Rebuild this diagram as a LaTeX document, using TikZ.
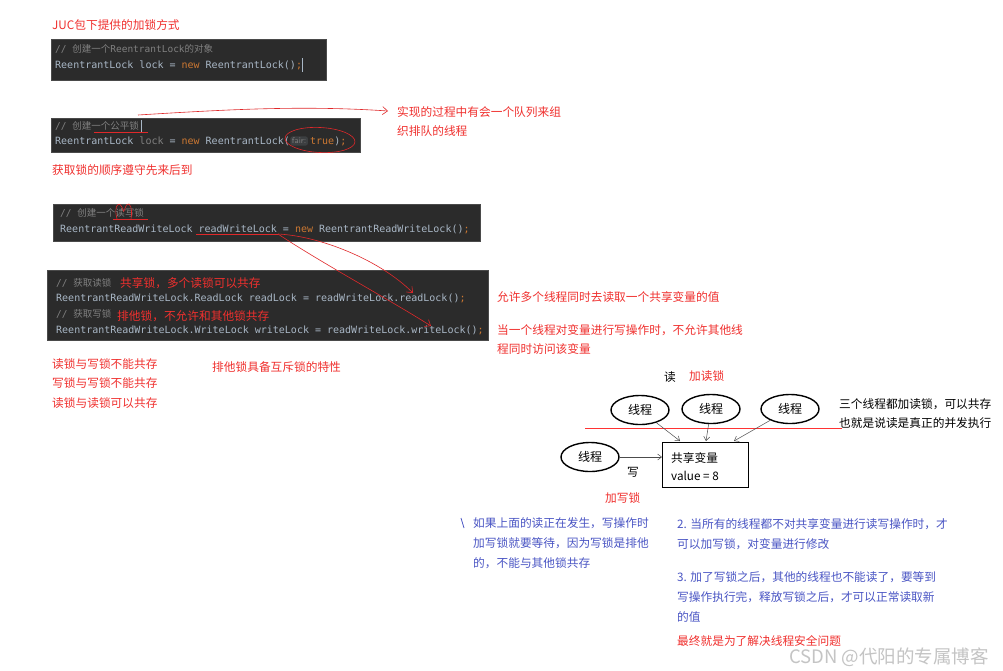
\documentclass[tikz,border=0pt]{standalone}
\usepackage{fontspec}
\setmainfont{Noto Sans CJK SC}
\setmonofont{DejaVu Sans Mono}
\newfontfamily\cjk{Noto Sans CJK SC}
\usetikzlibrary{arrows.meta,shapes.geometric}
\definecolor{codebg}{HTML}{2B2B2B}
\definecolor{codeedge}{HTML}{4A4A4A}
\definecolor{codefg}{HTML}{A9B7C6}
\definecolor{kw}{HTML}{CC7832}
\definecolor{cmt}{HTML}{808080}
\definecolor{hintbg}{HTML}{3C3F41}
\definecolor{noteRed}{HTML}{F0302E}
\definecolor{noteBlue}{HTML}{4A55C4}
\definecolor{penRed}{HTML}{E0282A}
\definecolor{wm}{HTML}{C4C4C4}
\newcommand{\kwd}[1]{\textcolor{kw}{#1}}
\newcommand{\cz}[1]{{\cjk #1}}
\tikzset{
  codebox/.style={draw=codeedge, fill=codebg, line width=0.8pt, anchor=north west, inner sep=0pt},
  codeline/.style={anchor=west, inner sep=0pt, font=\ttfamily\fontsize{10}{12}\selectfont, text=codefg},
  cmtline/.style={anchor=west, inner sep=0pt, font=\ttfamily\fontsize{9.5}{11}\selectfont, text=cmt},
  note/.style={anchor=west, inner sep=0pt, font=\fontsize{11.7}{14}\selectfont, text=noteRed},
  bnote/.style={note, text=noteBlue},
  knote/.style={note, text=black},
  pen/.style={draw=penRed, line width=0.6pt},
  penarrow/.style={pen, -{Straight Barb[length=5pt,width=8pt]}},
  thread/.style={ellipse, draw=black, line width=1.4pt, minimum width=58pt, minimum height=29pt, inner sep=0pt, font=\fontsize{12}{14}\selectfont},
  darrow/.style={draw=black!70, line width=0.5pt, -{Straight Barb[length=4pt,width=6pt]}},
}
\begin{document}
\begin{tikzpicture}[x=1pt,y=-1pt]
\useasboundingbox (0,0) rectangle (1003,670);
\fill[white] (0,0) rectangle (1003,670);

% title
\node[note] (title) at (52,25) {JUC包下提供的加锁方式};

% code block 1
\node[codebox, minimum width=275pt, minimum height=41pt] (cb1) at (51,39) {};
\node[cmtline] (c1a) at (55,49) {// \cz{创建一个}ReentrantLock\cz{的对象}};
\node[codeline] (c1b) at (55,65) {ReentrantLock lock = \kwd{new} ReentrantLock()\kwd{;}};
\coordinate (cur1a) at (302,58);
\coordinate (cur1b) at (302,72);
\draw[codefg, line width=1pt] (cur1a) -- (cur1b);

% code block 2
\node[codebox, minimum width=309pt, minimum height=34pt] (cb2) at (51,118) {};
\node[cmtline] (c2a) at (55,126) {// \cz{创建一个公平锁}};
\coordinate (cur2a) at (141,120);
\coordinate (cur2b) at (141,132);
\draw[codefg, line width=1pt] (cur2a) -- (cur2b);
\node[codeline] (c2b) at (55,141) {ReentrantLock \textcolor{cmt}{lock} = \kwd{new} ReentrantLock(};
\node[anchor=west, fill=hintbg, rounded corners=2pt, inner sep=1.5pt, text=cmt, font=\sffamily\fontsize{8.5}{10}\selectfont] (hint) at (c2b.east) {fair:};
\node[codeline, anchor=west] (c2c) at ([xshift=2pt]hint.east) {\kwd{true})\kwd{;}};

\coordinate (u1a) at (94,132);
\coordinate (u1b) at (148,132);
\draw[pen] (u1a) -- (u1b);
\node[ellipse, draw=penRed, line width=0.6pt, minimum width=70pt, minimum height=25pt, rotate=-3] (fairmark) at (320,140) {};
\coordinate (a1s) at (138,115);
\coordinate (a1e) at (388,111);
\draw[penarrow] (a1s) .. controls (220,110) and (300,105) .. (a1e);
\node[note] (n1) at (397,112) {实现的过程中有会一个队列来组};
\node[note] (n2) at (397,131) {织排队的线程};

\node[note] (n3) at (52,170) {获取锁的顺序遵守先来后到};

% code block 3
\node[codebox, minimum width=427pt, minimum height=37pt] (cb3) at (53,204) {};
\node[cmtline] (c3a) at (60,213) {// \cz{创建一个读写锁}};
\node[codeline] (c3b) at (60,229) {ReentrantReadWriteLock readWriteLock = \kwd{new} ReentrantReadWriteLock()\kwd{;}};
\coordinate (u2a) at (113,219);
\coordinate (u2b) at (148,219);
\draw[pen] (u2a) -- (u2b);
\coordinate (s1) at (117,219);
\coordinate (s2) at (131,219);
\draw[pen] (s1) .. controls (113,205) and (120,199) .. (123,210)
  .. controls (124,216) and (125,202) .. (129,204)
  .. controls (132,207) and (132,213) .. (s2);
\coordinate (u3a) at (196,234);
\coordinate (u3b) at (278,234);
\draw[pen] (u3a) -- (u3b);

% code block 4
\node[codebox, minimum width=441pt, minimum height=70pt] (cb4) at (47,270) {};
\node[cmtline] (c4a) at (56,283) {// \cz{获取读锁}};
\node[note] (r4a) at (120,283) {共享锁，多个读锁可以共存};
\node[codeline] (c4b) at (56,298) {ReentrantReadWriteLock.ReadLock readLock = readWriteLock.readLock()\kwd{;}};
\node[cmtline] (c4c) at (56,314) {// \cz{获取写锁}};
\node[note] (r4c) at (117,316) {排他锁，不允许和其他锁共存};
\node[codeline] (c4d) at (56,330) {ReentrantReadWriteLock.WriteLock writeLock = readWriteLock.writeLock()\kwd{;}};

\coordinate (rdEnd) at (413,293);
\coordinate (wrEnd) at (431,326);
\draw[penarrow] (u3b) .. controls (320,236) and (380,260) .. (rdEnd);
\draw[penarrow] (u3b) .. controls (320,262) and (390,300) .. (wrEnd);

\node[note] (n4) at (497,297) {允许多个线程同时去读取一个共享变量的值};
\node[note] (n5) at (497,330) {当一个线程对变量进行写操作时，不允许其他线};
\node[note] (n6) at (497,349) {程同时访问该变量};

\node[note] (n7) at (52,364) {读锁与写锁不能共存};
\node[note] (n8) at (52,383) {写锁与写锁不能共存};
\node[note] (n9) at (52,403) {读锁与读锁可以共存};
\node[note] (n10) at (212,367) {排他锁具备互斥锁的特性};

% read/write diagram
\node[knote] (rd) at (664,377) {读};
\node[note] (addr) at (689,376) {加读锁};
\node[thread] (th1) at (640,410) {线程};
\node[thread] (th2) at (711,409) {线程};
\node[thread] (th3) at (790,409) {线程};
\node[thread] (th4) at (590,457) {线程};
\node[draw=black, line width=1.4pt, minimum width=86pt, minimum height=45pt, anchor=north west, inner sep=0pt] (var) at (662,442) {};
\node[knote] (v1) at (671,458) {共享变量};
\node[knote] (v2) at (671,476) {value = 8};
\coordinate (rl1) at (585,428);
\coordinate (rl2) at (842,428);
\draw[draw=red!80, line width=0.6pt] (rl1) -- (rl2);
\coordinate (in1) at (680,441);
\coordinate (in2) at (706,441);
\coordinate (in3) at (734,441);
\draw[darrow] (th1) -- (in1);
\draw[darrow] (th2) -- (in2);
\draw[darrow] (th3) -- (in3);
\draw[darrow] (th4) -- (th4 -| var.west);
\node[knote] (wr) at (627,472) {写};
\node[note] (addw) at (605,498) {加写锁};
\node[knote] (k1) at (839,404) {三个线程都加读锁，可以共存};
\node[knote] (k2) at (839,423) {也就是说读是真正的并发执行};

% blue notes
\coordinate (bm1) at (461,518);
\coordinate (bm2) at (464,528);
\draw[noteBlue, line width=0.8pt] (bm1) -- (bm2);
\node[bnote] (b1) at (473,523) {如果上面的读正在发生，写操作时};
\node[bnote] (b2) at (473,543) {加写锁就要等待，因为写锁是排他};
\node[bnote] (b3) at (473,563) {的，不能与其他锁共存};
\node[bnote] (b4) at (677,524) {2. 当所有的线程都不对共享变量进行读写操作时，才};
\node[bnote] (b5) at (677,544) {可以加写锁，对变量进行修改};
\node[bnote] (b6) at (677,577) {3. 加了写锁之后，其他的线程也不能读了，要等到};
\node[bnote] (b7) at (677,597) {写操作执行完，释放写锁之后，才可以正常读取新};
\node[bnote] (b8) at (677,617) {的值};
\node[note] (fin) at (677,641) {最终就是为了解决线程安全问题};

% watermark
\node[anchor=west, inner sep=0pt, text=wm, font=\fontsize{18.5}{22}\selectfont] (wmark) at (789,657) {CSDN @代阳的专属博客};
\end{tikzpicture}
\end{document}
